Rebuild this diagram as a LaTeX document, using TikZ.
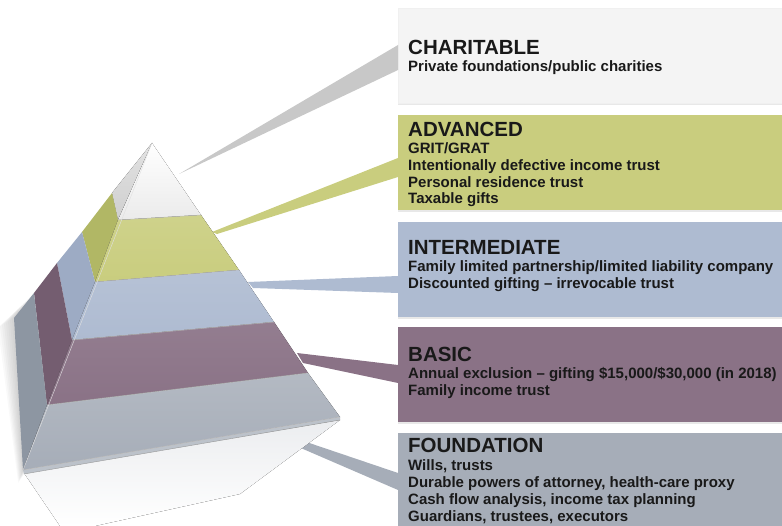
\documentclass[tikz,border=0pt]{standalone}
\usepackage{fontspec}
\setmainfont{Liberation Sans}
\usetikzlibrary{%
  calc,%
  shadows%
}
\definecolor{pWhite}{HTML}{F4F4F4}
\definecolor{pWhiteL}{HTML}{CFCFCF}
\definecolor{pGreen}{HTML}{C9CD7E}
\definecolor{pGreenL}{HTML}{B1B765}
\definecolor{pBlue}{HTML}{AEBBD1}
\definecolor{pBlueL}{HTML}{9DABC4}
\definecolor{pPurple}{HTML}{8A7286}
\definecolor{pPurpleL}{HTML}{745D70}
\definecolor{pGray}{HTML}{A6ADB8}
\definecolor{pGrayL}{HTML}{8D96A2}
\definecolor{beamGray}{HTML}{C8C8C8}
\tikzset{box/.style = {draw=none, minimum width=395pt, inner sep=0pt,
    anchor=west, drop shadow={opacity=0.18, shadow xshift=0pt, shadow yshift=-2pt}},%
  ttl/.style = {anchor=base west, inner sep=0pt, text=black!90,
    font=\fontsize{20.5}{24}\selectfont\bfseries},%
  txt/.style = {anchor=base west, inner sep=0pt, text=black!90,
    font=\fontsize{15}{17}\selectfont\bfseries},%
  seam/.style = {draw=black!25, line width=0.5pt}}

\begin{document}
\begin{tikzpicture}[x=1pt,y=-1pt]
  \useasboundingbox (0,0) rectangle (782,526);
  \clip (0,0) rectangle (782,526);
  % boxes
  \node[box, fill=pWhite, draw=black!6, minimum height=95pt] (charitable) at (398,55.5) {};
  \node[box, fill=pGreen, minimum height=95pt] (advanced) at (398,162.5) {};
  \node[box, fill=pBlue, minimum height=95pt] (intermediate) at (398,269.5) {};
  \node[box, fill=pPurple, minimum height=95pt] (basic) at (398,374.5) {};
  \node[box, fill=pGray, minimum height=95pt] (foundation) at (398,480.5) {};
  % beam tips
  \coordinate (tipC) at (179,174);
  \coordinate (tipA1) at (212,232);
  \coordinate (tipA2) at (217,234);
  \coordinate (tipI1) at (248,282);
  \coordinate (tipI2) at (253,288);
  \coordinate (tipB1) at (297,353);
  \coordinate (tipB2) at (303,363);
  \coordinate (tipF1) at (265,428);
  \coordinate (tipF2) at (266,433);
  \fill[beamGray] (tipC) -- ([yshift=10.5pt]charitable.west) -- ([yshift=-14.5pt]charitable.west) -- cycle;
  \fill[pGreen] (tipA1) -- ([yshift=4.5pt]advanced.west) -- ([yshift=-14.5pt]advanced.west) -- (tipA2) -- cycle;
  \fill[pBlue] (tipI1) -- ([yshift=-6.5pt]intermediate.west) -- ([yshift=-23.5pt]intermediate.west) -- (tipI2) -- cycle;
  \fill[pPurple] (tipB1) -- ([yshift=9.5pt]basic.west) -- ([yshift=-8.5pt]basic.west) -- (tipB2) -- cycle;
  \fill[pGray] (tipF1) -- ([yshift=7.5pt]foundation.west) -- ([yshift=-9.5pt]foundation.west) -- (tipF2) -- cycle;
  % soft shadow and reflection
  \foreach \d in {2,4,...,16}
    \fill[black, opacity=0.025] ($(14,318)+(-\d,0.6*\d)$) -- ($(34,293)+(-\d,\d)$) -- (60,420)
      -- ($(23,470)+(-0.3*\d,0.8*\d)$) -- cycle;
  \fill[top color=pGray!22, bottom color=white] (24,473) -- (340,420) -- (240,494) -- (95,526) -- (60,526) -- cycle;
  % pyramid left face
  \fill[top color=pWhiteL!60, bottom color=pWhiteL] (152,143) -- (112,193) -- (118,220) -- cycle;
  \fill[pGreenL] (112,193) -- (82,232) -- (95,282) -- (118,220) -- cycle;
  \fill[pBlueL] (82,232) -- (57,263) -- (72,340) -- (95,282) -- cycle;
  \fill[pPurpleL] (57,263) -- (34,293) -- (47,405) -- (72,340) -- cycle;
  \fill[pGrayL] (34,293) -- (14,318) -- (23,470) -- (47,405) -- cycle;
  % pyramid front face
  \fill[top color=white, bottom color=black!8] (152,143) -- (201,215) -- (118,220) -- cycle;
  \fill[top color=pGreen!90!white, bottom color=pGreen] (118,220) -- (201,215) -- (239,270) -- (95,282) -- cycle;
  \fill[top color=pBlue!90!white, bottom color=pBlue] (95,282) -- (239,270) -- (274,322) -- (72,340) -- cycle;
  \fill[top color=pPurple!92!white, bottom color=pPurple] (72,340) -- (274,322) -- (308,373) -- (47,405) -- cycle;
  \fill[top color=pGray!85!white, bottom color=pGray] (47,405) -- (308,373) -- (340,417) -- (23,470) -- cycle;
  \fill[pGray!75!white] (23,470) -- (340,417) -- (340,420) -- (24,474) -- cycle;
  \draw[seam] (118,220) -- (201,215);
  \draw[seam] (95,282) -- (239,270);
  \draw[seam] (72,340) -- (274,322);
  \draw[seam] (47,405) -- (308,373);
  \draw[seam] (23,470) -- (340,417);
  \draw[draw=black!40, line width=0.4pt] (24,474) -- (340,420);
  \draw[draw=black!12, line width=0.4pt] (152,143) -- (23,470);
  % texts
  \node[ttl] (hC) at (408,55) {CHARITABLE};
  \node[txt] (tC) at (408,72) {Private foundations/public charities};
  \node[ttl] (hA) at (408,137) {ADVANCED};
  \foreach \ln [count=\i] in {{GRIT/GRAT},{Intentionally defective income trust},
      {Personal residence trust},{Taxable gifts}}
    \node[txt] (tA-\i) at (408,137+16.7*\i) {\ln};
  \node[ttl] (hI) at (408,255) {INTERMEDIATE};
  \foreach \ln [count=\i] in {{Family limited partnership/limited liability company},
      {Discounted gifting – irrevocable trust}}
    \node[txt] (tI-\i) at (408,255+17*\i) {\ln};
  \node[ttl] (hB) at (408,362) {BASIC};
  \foreach \ln [count=\i] in {{Annual exclusion – gifting \$15,000/\$30,000 (in 2018)},
      {Family income trust}}
    \node[txt] (tB-\i) at (408,362+17*\i) {\ln};
  \node[ttl] (hF) at (408,453) {FOUNDATION};
  \foreach \ln [count=\i] in {{Wills, trusts},{Durable powers of attorney, health-care proxy},
      {Cash flow analysis, income tax planning},{Guardians, trustees, executors}}
    \node[txt] (tF-\i) at (408,453+17.2*\i) {\ln};
\end{tikzpicture}
\end{document}
